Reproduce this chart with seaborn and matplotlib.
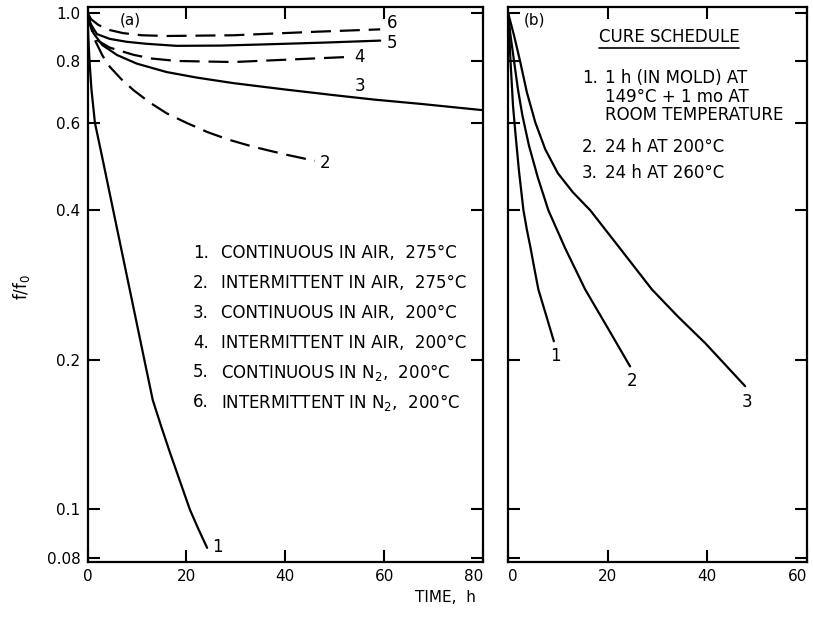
import matplotlib
matplotlib.use("Agg")
import matplotlib.pyplot as plt
from matplotlib.ticker import NullLocator, FixedLocator, FixedFormatter
from matplotlib.lines import Line2D
import seaborn as sns

# ---------------- data ----------------
# Panel (a): aging conditions
a1_t = [0, 0.15, 0.4, 0.8, 1.5, 3.0, 5.2, 8.0, 11.5, 13.2, 15.0, 16.7, 18.7, 20.7, 22.5, 24.2]
a1_f = [1.0, 0.90, 0.80, 0.70, 0.60, 0.51, 0.40, 0.294, 0.20, 0.166, 0.146, 0.13, 0.114, 0.10, 0.091, 0.0837]

a2_t = [0, 0.6, 1.5, 3.0, 4.5, 6.8, 9.3, 12.5, 16, 20, 24.2, 28.5, 33.5, 40, 46]
a2_f = [1.0, 0.94, 0.88, 0.82, 0.778, 0.735, 0.698, 0.66, 0.627, 0.60, 0.575, 0.555, 0.537, 0.518, 0.503]

a3_t = [0, 0.5, 1.2, 3.0, 6, 10, 16, 22, 29.5, 40, 49.8, 58, 67.3, 80]
a3_f = [1.0, 0.95, 0.909, 0.86, 0.821, 0.789, 0.759, 0.74, 0.721, 0.70, 0.682, 0.668, 0.655, 0.636]

a4_t = [0, 0.7, 1.9, 4.5, 9.3, 13, 18, 29.5, 43, 52.8]
a4_f = [1.0, 0.94, 0.88, 0.85, 0.822, 0.808, 0.799, 0.795, 0.806, 0.814]

a5_t = [0, 0.6, 1.9, 4.5, 8, 12, 18, 27, 36.3, 48, 59.2]
a5_f = [1.0, 0.95, 0.905, 0.885, 0.873, 0.865, 0.857, 0.858, 0.863, 0.870, 0.878]

a6_t = [0, 0.7, 2.2, 4.5, 7.2, 11, 16, 29.5, 46.4, 59.2]
a6_f = [1.0, 0.97, 0.944, 0.922, 0.909, 0.90, 0.897, 0.900, 0.915, 0.925]

# Panel (b): cure schedules
b1_t = [0, 0.25, 0.5, 1.0, 1.5, 2.2, 3.1, 3.8, 4.5, 5.3, 6.1, 7.7, 9.2]
b1_f = [1.0, 0.90, 0.80, 0.65, 0.57, 0.48, 0.40, 0.365, 0.337, 0.305, 0.277, 0.245, 0.218]

b2_t = [0, 0.5, 1.2, 2.0, 2.9, 4.2, 6.0, 8.1, 11.5, 15.5, 20, 24.5]
b2_f = [1.0, 0.90, 0.80, 0.70, 0.62, 0.54, 0.465, 0.40, 0.335, 0.277, 0.232, 0.194]

b3_t = [0, 1.2, 2.4, 3.8, 5.5, 7.5, 10, 13, 16.5, 22, 28.9, 34, 39.6, 47.6]
b3_f = [1.0, 0.90, 0.80, 0.69, 0.60, 0.53, 0.475, 0.435, 0.40, 0.34, 0.277, 0.245, 0.216, 0.177]

legend_a = ["CONTINUOUS IN AIR,  275°C",
            "INTERMITTENT IN AIR,  275°C",
            "CONTINUOUS IN AIR,  200°C",
            "INTERMITTENT IN AIR,  200°C",
            "CONTINUOUS IN N$_2$,  200°C",
            "INTERMITTENT IN N$_2$,  200°C"]
legend_b = ["1 h (IN MOLD) AT", "149°C + 1 mo AT", "ROOM TEMPERATURE",
            "24 h AT 200°C", "24 h AT 260°C"]

y_ticks = [1.0, 0.8, 0.6, 0.4, 0.2, 0.1, 0.08]
y_labels = ["1.0", "0.8", "0.6", "0.4", "0.2", "0.1", "0.08"]
xa_ticks = [0, 20, 40, 60, 80]
xb_ticks = [0, 20, 40, 60]

# ---------------- style ----------------
sns.set_style("ticks")
plt.rcParams["font.family"] = ["DejaVu Sans"]
plt.rcParams["mathtext.fontset"] = "dejavusans"
plt.rcParams["axes.linewidth"] = 1.6
for k in ["text.color", "axes.labelcolor", "xtick.color", "ytick.color", "axes.edgecolor"]:
    plt.rcParams[k] = "black"

fig = plt.figure(figsize=(8.13, 6.23), dpi=100)
W, H = 813, 623
ybot_px, ytop_px = 561.7, 7.2
axa = fig.add_axes([87.5 / W, 1 - ybot_px / H, (483 - 87.5) / W, (ybot_px - ytop_px) / H])
axb = fig.add_axes([508 / W, 1 - ybot_px / H, (807 - 508) / W, (ybot_px - ytop_px) / H])

solid = "-"
dash = (0, (9, 4))
lw = 1.6

for t, f, ls in [(a1_t, a1_f, solid), (a2_t, a2_f, dash), (a3_t, a3_f, solid),
                 (a4_t, a4_f, dash), (a5_t, a5_f, solid), (a6_t, a6_f, dash)]:
    sns.lineplot(x=t, y=f, ax=axa, color="black", linewidth=lw, linestyle=ls,
                 estimator=None, legend=False)

for t, f in [(b1_t, b1_f), (b2_t, b2_f), (b3_t, b3_f)]:
    sns.lineplot(x=t, y=f, ax=axb, color="black", linewidth=lw, linestyle=solid,
                 estimator=None, legend=False)

for ax, xt, xmax in [(axa, xa_ticks, 80), (axb, xb_ticks, 60)]:
    ax.set_yscale("log")
    ax.set_ylim(0.0785, 1.025)
    ax.set_xlim(0, xmax)
    ax.yaxis.set_major_locator(FixedLocator(y_ticks))
    ax.yaxis.set_minor_locator(NullLocator())
    ax.xaxis.set_major_locator(FixedLocator(xt))
    ax.xaxis.set_major_formatter(FixedFormatter([str(v) for v in xt]))
    ax.tick_params(direction="in", length=8.5, width=1.5, top=True, right=True,
                   labelsize=11, pad=5, colors="black")
    ax.set_xlabel("")
    ax.set_ylabel("")
    for s in ax.spines.values():
        s.set_color("black")
        s.set_linewidth(1.6)

axa.yaxis.set_major_formatter(FixedFormatter(y_labels))
axb.yaxis.set_major_formatter(FixedFormatter([""] * len(y_ticks)))

# shift end tick labels like the reference
axa.xaxis.get_major_ticks()[-1].label1.set_horizontalalignment("right")
axb.xaxis.get_major_ticks()[0].label1.set_horizontalalignment("left")
axb.xaxis.get_major_ticks()[-1].label1.set_horizontalalignment("right")

fs = 12
# ---- panel (a) annotations ----
axa.text(0.1075, 0.977, "(a)", transform=axa.transAxes, ha="center", va="center", fontsize=11)
ys_a = [0.5567, 0.5026, 0.4485, 0.3944, 0.3421, 0.2880]
for i, (lab, yy) in enumerate(zip(legend_a, ys_a)):
    axa.text(0.2668, yy, f"{i + 1}.", transform=axa.transAxes, ha="left", va="center", fontsize=fs)
    axa.text(0.3376, yy, lab, transform=axa.transAxes, ha="left", va="center", fontsize=fs)

for lab, fx, fy in [("1", 0.328, 0.0265), ("2", 0.6005, 0.719), ("3", 0.689, 0.858),
                    ("4", 0.689, 0.910), ("5", 0.770, 0.935), ("6", 0.770, 0.971)]:
    axa.text(fx, fy, lab, transform=axa.transAxes, ha="center", va="center", fontsize=fs)

# ---- panel (b) annotations ----
axb.text(0.0903, 0.977, "(b)", transform=axb.transAxes, ha="center", va="center", fontsize=11)
t_cs = axb.text(0.538, 0.946, "CURE SCHEDULE", transform=axb.transAxes,
                ha="center", va="center", fontsize=fs)
for num, fy in [("1.", 0.872), ("2.", 0.7479), ("3.", 0.7010)]:
    axb.text(0.248, fy, num, transform=axb.transAxes, ha="left", va="center", fontsize=fs)
for lab, fy in zip(legend_b, [0.872, 0.838, 0.8056, 0.7479, 0.7010]):
    axb.text(0.3244, fy, lab, transform=axb.transAxes, ha="left", va="center", fontsize=fs)
for lab, fx, fy in [("1", 0.157, 0.371), ("2", 0.415, 0.326), ("3", 0.799, 0.288)]:
    axb.text(fx, fy, lab, transform=axb.transAxes, ha="center", va="center", fontsize=fs)

# underline for CURE SCHEDULE
fig.canvas.draw()
bb = t_cs.get_window_extent(fig.canvas.get_renderer())
inv = axb.transAxes.inverted()
(x0, y0), (x1, y1) = inv.transform([[bb.x0, bb.y0], [bb.x1, bb.y1]])
axb.add_line(Line2D([x0, x1], [y0 - 0.004, y0 - 0.004], transform=axb.transAxes,
                    color="black", linewidth=1.2, clip_on=False))

# axis titles
fig.text(22 / W, 1 - 287 / H, "f/f$_0$", rotation=90, ha="center", va="center", fontsize=12)
fig.text(445 / W, 1 - 598 / H, "TIME,  h", ha="center", va="center", fontsize=11)

fig.savefig("out.png", dpi=100)
